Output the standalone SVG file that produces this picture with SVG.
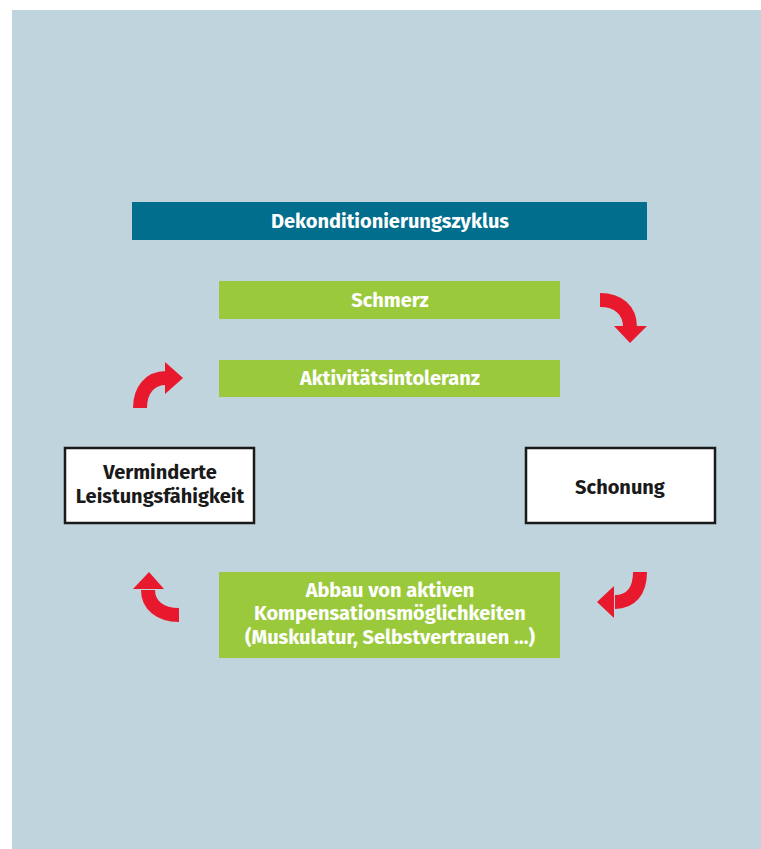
<svg xmlns="http://www.w3.org/2000/svg" width="761" height="849" viewBox="0 0 761 849">
<style>
.t{font-family:"Fira Sans","Open Sans","Liberation Sans",sans-serif;font-weight:bold;font-size:20px;text-anchor:middle}
.w{fill:#ffffff}
.k{fill:#1a1a1a}
.g{fill:#9aca3c}
.b{fill:#ffffff;stroke:#1a1a1a;stroke-width:2.5}
.a{fill:none;stroke:#e8192c;stroke-width:14}
.h{fill:#e8192c}
</style>
<rect x="0" y="0" width="761" height="849" fill="#ffffff"/>
<rect x="12" y="10" width="749" height="839" fill="#c0d4de"/>
<g id="title"><rect x="132" y="202" width="515" height="38" fill="#006e8c"/><text class="t w" x="390" y="228">Dekonditionierungszyklus</text></g>
<g id="schmerz"><rect class="g" x="219" y="281" width="341" height="38"/><text class="t w" x="390" y="307">Schmerz</text></g>
<g id="aktivitaet"><rect class="g" x="219" y="360" width="341" height="37"/><text class="t w" x="390" y="385">Aktivitätsintoleranz</text></g>
<g id="abbau"><rect class="g" x="219" y="572" width="341" height="86"/><text class="t w" x="390" y="597">Abbau von aktiven</text><text class="t w" x="390" y="620">Kompensationsmöglichkeiten</text><text class="t w" x="390" y="644">(Muskulatur, Selbstvertrauen …)</text></g>
<g id="vermindert"><rect class="b" x="65" y="448" width="189" height="75"/><text class="t k" x="160" y="479">Verminderte</text><text class="t k" x="160" y="503">Leistungsfähigkeit</text></g>
<g id="schonung"><rect class="b" x="526" y="448" width="189" height="75"/><text class="t k" x="620" y="494">Schonung</text></g>
<g id="connectors">
<path class="a" d="M600,300 C618,300 630,310 630,327"/><polygon class="h" points="614,326 647,326 630,343"/>
<path class="a" d="M140,408 C140,390 150,378 166,378"/><polygon class="h" points="165,362 165,394 183,378"/>
<path class="a" d="M640,572 C640,592 630,602 615,602"/><polygon class="h" points="614,586 614,618 597,602"/>
<path class="a" d="M179,615 C160,615 148,605 148,590"/><polygon class="h" points="133,589 164,589 149,572"/>
</g>
</svg>
